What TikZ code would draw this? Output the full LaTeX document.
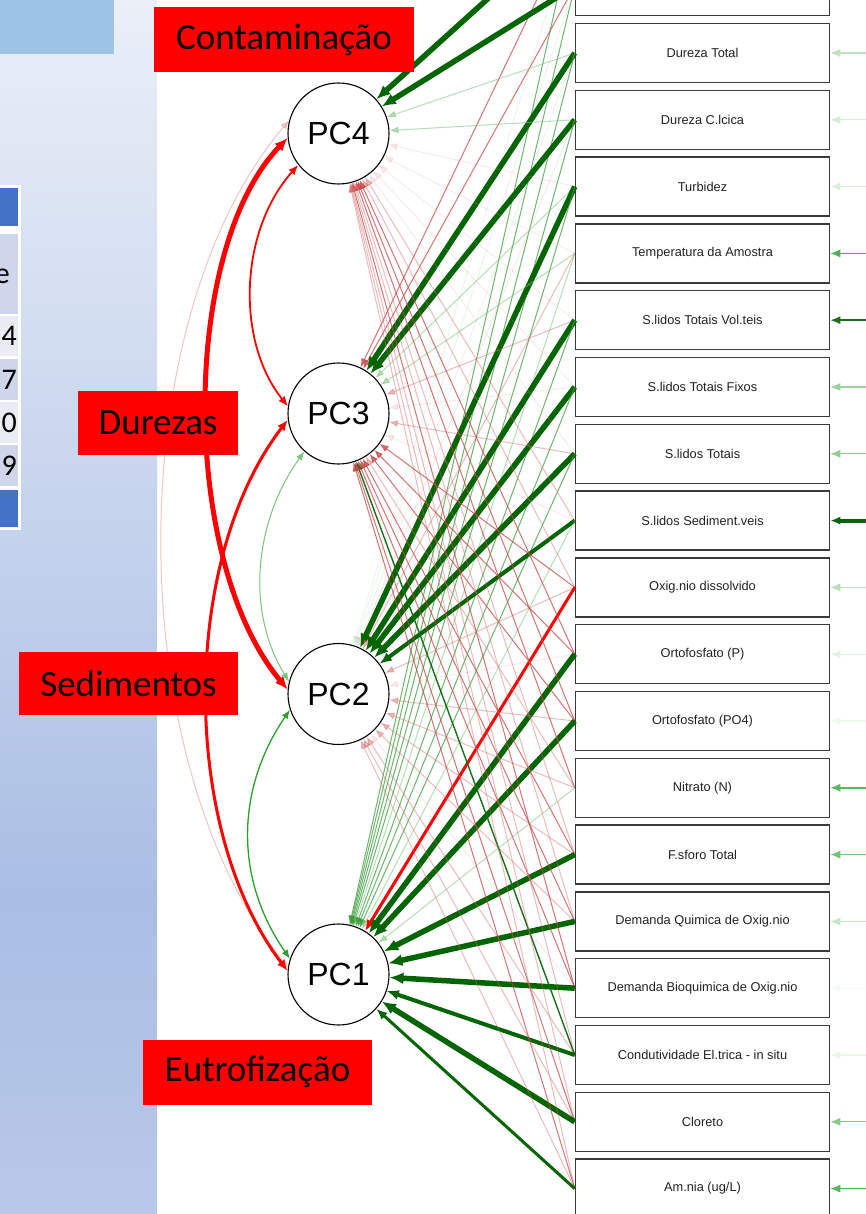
\documentclass[tikz,border=0pt]{standalone}
\usepackage{fontspec}
\setmainfont{Liberation Sans}
\newfontfamily\calfont{Carlito}
\usetikzlibrary{arrows.meta}
\definecolor{dg}{HTML}{006400}
\definecolor{boxgray}{HTML}{3A3A3A}
\definecolor{textgray}{HTML}{222222}
\definecolor{tblue}{HTML}{4472C4}
\definecolor{tdark}{HTML}{CFD5EA}
\definecolor{tlight}{HTML}{E9EBF5}
\definecolor{topblue}{HTML}{9DC3E6}
\definecolor{gmid}{HTML}{3D9E3D}
\definecolor{glight}{HTML}{7CC57C}
\definecolor{gfaint}{HTML}{A8D8A8}
\definecolor{rmid}{HTML}{C84646}
\definecolor{rlight}{HTML}{D66A6A}
\definecolor{rfaint}{HTML}{E8A0A0}
\definecolor{gdark}{HTML}{1A6E1A}
\tikzset{
  vbox/.style={draw=boxgray, line width=1.5pt, fill=white, minimum width=254pt, minimum height=59pt, inner sep=0pt, font=\fontsize{12.8}{15}\selectfont, text=textgray},
  pcnode/.style={circle, draw=black, line width=1.1pt, fill=white, minimum size=101pt, inner sep=0pt, font=\fontsize{32}{36}\selectfont},
  lab/.style={fill=red, text=black, inner sep=0pt, font=\calfont\fontsize{37}{40}\selectfont},
  tnum/.style={anchor=east, inner sep=0pt, font=\calfont\fontsize{30}{32}\selectfont},
  eG/.style={draw=dg, line width=5.5pt, -{Latex[length=14pt,width=12pt]}},
  eGm/.style={draw=dg, line width=4pt, -{Latex[length=12pt,width=10pt]}},
  eGs/.style={draw=dg, line width=3pt, -{Latex[length=11pt,width=9pt]}},
  eGd/.style={draw=gdark, line width=1.4pt, -{Latex[length=9pt,width=7pt]}},
  eg1/.style={draw=gmid, line width=1pt, opacity=.75, -{Latex[length=9pt,width=7pt]}},
  eg2/.style={draw=glight, line width=1pt, opacity=.55, -{Latex[length=9pt,width=7pt]}},
  eg3/.style={draw=gfaint, line width=.8pt, opacity=.25, -{Latex[length=9pt,width=7pt]}},
  eR/.style={draw=red, line width=3pt, -{Latex[length=11pt,width=9pt]}},
  er1/.style={draw=rmid, line width=1pt, opacity=.75, -{Latex[length=9pt,width=7pt]}},
  er2/.style={draw=rlight, line width=1pt, opacity=.45, -{Latex[length=9pt,width=7pt]}},
  er3/.style={draw=rfaint, line width=.8pt, opacity=.25, -{Latex[length=9pt,width=7pt]}},
  errarr/.style={line width=1.3pt, -{Latex[length=10pt,width=8pt]}},
}
\newcommand\myedges[5]{%
  \draw[#2] (#1) -- (pc4);
  \draw[#3] (#1) -- (pc3);
  \draw[#4] (#1) -- (pc2);
  \draw[#5] (#1) -- (pc1);}
\newcommand\myerr[3]{%
  \coordinate (e#1) at (885,{53+(#1-1)*66.8});
  \draw[errarr, draw=#2, line width=#3] (e#1) -- (b#1.east);}
\begin{document}
\begin{tikzpicture}[x=1pt,y=-1pt]
\useasboundingbox (0,0) rectangle (866,1214);
\begin{scope}
\clip (0,0) rectangle (866,1214);
\fill[white] (0,0) rectangle (866,1214);
% left panel
\shade[top color={rgb,255:red,234;green,239;blue,248}, bottom color={rgb,255:red,170;green,190;blue,228}] (0,0) rectangle (157,900);
\shade[top color={rgb,255:red,170;green,190;blue,228}, bottom color={rgb,255:red,184;green,200;blue,232}] (0,899.5) rectangle (157,1214);
\fill[topblue] (0,0) rectangle (114,54);
% table fragment
\fill[white] (-2,185) rectangle (21,530);
\fill[tblue] (-2,188) rectangle (18,226);
\fill[tdark] (-2,234) rectangle (18,314);
\fill[tlight] (-2,316) rectangle (18,356);
\fill[tdark] (-2,359) rectangle (18,400);
\fill[tlight] (-2,402) rectangle (18,443);
\fill[tdark] (-2,445) rectangle (18,486);
\fill[tblue] (-2,490) rectangle (18,527);
\node[tnum] (te) at (10,276) {e};
\node[tnum] (t4) at (17,336) {4};
\node[tnum] (t7) at (17,380) {7};
\node[tnum] (t0) at (17,423) {0};
\node[tnum] (t9) at (17,466) {9};

% PC nodes
\node[pcnode] (pc4) at (338.5,133.5) {PC4};
\node[pcnode] (pc3) at (338.5,413.5) {PC3};
\node[pcnode] (pc2) at (338.5,694) {PC2};
\node[pcnode] (pc1) at (338.5,974.5) {PC1};

% variable boxes
\foreach \i/\t in {0/{},1/{Dureza Total},2/{Dureza C.lcica},3/{Turbidez},4/{Temperatura da Amostra},5/{S.lidos Totais Vol.teis},6/{S.lidos Totais Fixos},7/{S.lidos Totais},8/{S.lidos Sediment.veis},9/{Oxig.nio dissolvido},10/{Ortofosfato (P)},11/{Ortofosfato (PO4)},12/{Nitrato (N)},13/{F.sforo Total},14/{Demanda Quimica de Oxig.nio},15/{Demanda Bioquimica de Oxig.nio},16/{Condutividade El.trica - in situ},17/{Cloreto},18/{Am.nia (ug/L)}}
  \node[vbox] (b\i) at (702.5,{53+(\i-1)*66.8}) {\t};
\coordinate (bm) at (575,-80);

% loadings
\myedges{bm}{eG}{er1}{eg3}{eg1}
\myedges{b0.west}{eG}{er1}{eg3}{eg1}
\myedges{b1.west}{eg2}{eG}{eg3}{eg1}
\myedges{b2.west}{eg2}{eG}{er3}{eg1}
\myedges{b3.west}{er3}{eg2}{eG}{eg1}
\myedges{b4.west}{er3}{eg2}{er2}{eg2}
\myedges{b5.west}{er3}{er2}{eG}{eg1}
\myedges{b6.west}{er3}{er3}{eG}{eg1}
\myedges{b7.west}{er3}{er2}{eG}{eg1}
\myedges{b8.west}{er2}{er3}{eGm}{eg2}
\myedges{b9.west}{er2}{er1}{er2}{eR}
\myedges{b10.west}{er1}{er1}{er3}{eG}
\myedges{b11.west}{er1}{er1}{er2}{eG}
\myedges{b12.west}{er1}{er2}{er2}{eg2}
\myedges{b13.west}{er2}{er1}{er2}{eG}
\myedges{b14.west}{er2}{er1}{er2}{eG}
\myedges{b15.west}{er1}{er1}{er3}{eG}
\myedges{b16.west}{er2}{eGd}{er2}{eGm}
\myedges{b17.west}{er2}{er1}{er2}{eG}
\myedges{b18.west}{er2}{er1}{er2}{eGs}

% residual arrows
\myerr{1}{{rgb,255:red,191;green,227;blue,191}}{1.2pt}
\myerr{2}{{rgb,255:red,213;green,237;blue,213}}{1.2pt}
\myerr{3}{{rgb,255:red,220;green,239;blue,220}}{1.2pt}
\myerr{4}{{rgb,255:red,77;green,176;blue,77}}{1.5pt}
\myerr{5}{{rgb,255:red,27;green,111;blue,27}}{1.6pt}
\myerr{6}{{rgb,255:red,156;green,210;blue,156}}{1.2pt}
\myerr{7}{{rgb,255:red,146;green,205;blue,146}}{1.2pt}
\myerr{8}{{rgb,255:red,11;green,99;blue,11}}{4pt}
\myerr{9}{{rgb,255:red,184;green,223;blue,184}}{1.2pt}
\myerr{10}{{rgb,255:red,226;green,242;blue,226}}{1.2pt}
\myerr{11}{{rgb,255:red,240;green,248;blue,240}}{1.2pt}
\myerr{12}{{rgb,255:red,93;green,184;blue,93}}{1.4pt}
\myerr{13}{{rgb,255:red,116;green,194;blue,116}}{1.3pt}
\myerr{14}{{rgb,255:red,197;green,229;blue,197}}{1.2pt}
\myerr{15}{{rgb,255:red,246;green,250;blue,246}}{1.2pt}
\myerr{16}{{rgb,255:red,235;green,245;blue,235}}{1.2pt}
\myerr{17}{{rgb,255:red,134;green,201;blue,134}}{1.3pt}
\myerr{18}{{rgb,255:red,85;green,180;blue,85}}{1.5pt}

% covariances
\draw[draw=rfaint, opacity=.6, line width=1pt, {Latex[length=9pt,width=7pt]}-{Latex[length=9pt,width=7pt]}] (pc4.165) .. controls (120,320) and (120,760) .. (pc1.172);
\draw[draw=red, line width=5pt, {Latex[length=13pt,width=11pt]}-{Latex[length=13pt,width=11pt]}] (pc4.185) .. controls (180,250) and (180,560) .. (pc2.175);
\draw[draw=red, line width=1.8pt, {Latex[length=10pt,width=8pt]}-{Latex[length=10pt,width=8pt]}] (pc4.218) .. controls (240,230) and (235,340) .. (pc3.172);
\draw[draw=red, line width=3pt, {Latex[length=11pt,width=9pt]}-{Latex[length=11pt,width=9pt]}] (pc3.187) .. controls (180,560) and (180,830) .. (pc1.176);
\draw[draw=glight, line width=1pt, {Latex[length=9pt,width=7pt]}-{Latex[length=9pt,width=7pt]}] (pc3.228) .. controls (255,520) and (245,610) .. (pc2.166);
\draw[draw={rgb,255:red,44;green,160;blue,44}, line width=1.3pt, {Latex[length=9pt,width=7pt]}-{Latex[length=9pt,width=7pt]}] (pc2.198) .. controls (235,790) and (235,880) .. (pc1.162);

% factor labels
\node[lab, minimum width=260pt, minimum height=65pt] (lc) at (284,39.5) {Contaminação};
\node[lab, minimum width=160pt, minimum height=64pt] (ld) at (158,423) {Durezas};
\node[lab, minimum width=219pt, minimum height=63pt] (ls) at (128.5,683.5) {Sedimentos};
\node[lab, minimum width=229pt, minimum height=65pt] (le) at (257.5,1072) {Eutrofização};
\end{scope}
\end{tikzpicture}
\end{document}
